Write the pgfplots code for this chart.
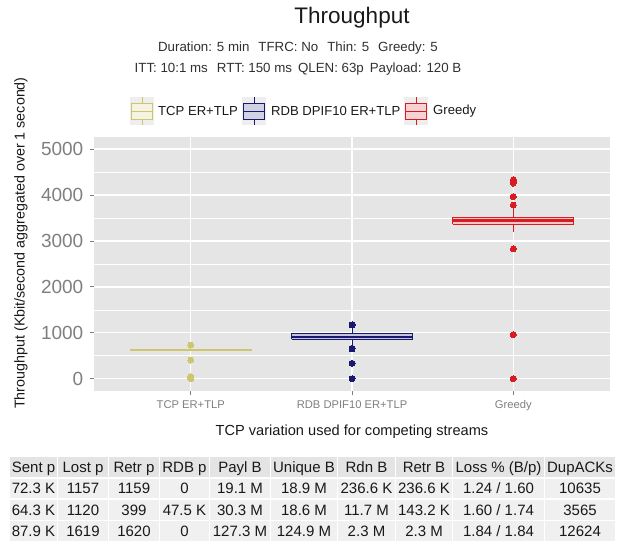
\documentclass[border=0pt]{standalone}
\usepackage{pgfplots}
\pgfplotsset{compat=1.18}
\usepackage{fontspec}
\setmainfont{Liberation Sans}
\definecolor{panel}{RGB}{229,229,229}
\definecolor{tcpc}{RGB}{205,198,110}
\definecolor{rdbc}{RGB}{25,25,112}
\definecolor{grc}{RGB}{215,28,34}
\definecolor{tickc}{RGB}{127,127,127}
\definecolor{hdrc}{RGB}{228,228,228}
\definecolor{cellc}{RGB}{240,240,240}
\definecolor{keyc}{RGB}{238,238,238}
\definecolor{txt}{RGB}{25,25,25}
\newcommand\fs[1]{\fontsize{#1}{#1}\selectfont}
\newcommand\legkey[3]{%
  \fill[keyc] (#1,420) rectangle (#2,448);
  \draw[#3, line width=0.8pt] ({(#1+#2)/2},448) -- ({(#1+#2)/2},442);
  \draw[#3, line width=0.8pt] ({(#1+#2)/2},426) -- ({(#1+#2)/2},420);
  \draw[#3, line width=0.8pt, fill=#3!20!white] (#1+1.5,426) rectangle (#2-1.5,442);
  \draw[#3, line width=0.8pt] (#1+1.5,434) -- (#2-1.5,434);
}
\begin{document}
\begin{tikzpicture}
\useasboundingbox (0pt,0pt) rectangle (617pt,545pt);
\begin{axis}[
  at={(94pt,154pt)}, anchor=south west, scale only axis,
  width=516pt, height=254pt,
  xmin=-0.6, xmax=2.6, ymin=-268, ymax=5266,
  axis background/.style={fill=panel},
  axis line style={draw=none},
  tick pos=left, tick align=outside,
  major tick length=4.5pt, minor tick length=0pt,
  tick style={tickc, line width=0.9pt},
  xtick={0,1,2}, xticklabels={TCP ER+TLP,RDB DPIF10 ER+TLP,Greedy},
  ytick={0,1000,2000,3000,4000,5000},
  minor ytick={500,1500,2500,3500,4500},
  grid=both,
  major grid style={white, line width=1.4pt},
  minor grid style={white, line width=0.55pt},
  /pgf/number format/assume math mode=true,
  /pgf/number format/set thousands separator={},
  yticklabel style={font=\fs{19}, text=tickc, inner sep=1pt, xshift=-5pt},
  xticklabel style={font=\fs{11.2}, text=tickc, inner sep=1pt, yshift=-4pt},
  outl/.style={only marks, mark=*, mark size=3pt, mark options={fill=#1, draw=#1, line width=0pt}},
  wh/.style={draw=#1, line width=1pt},
  bx/.style={draw=#1, fill=#1!25!white, line width=1pt},
  md/.style={draw=#1, line width=2.2pt},
]
% TCP ER+TLP (flat box at 625)
\addplot[bx=tcpc] coordinates {(-0.375,618) (0.375,618) (0.375,632) (-0.375,632) (-0.375,618)};
\addplot[md=tcpc] coordinates {(-0.375,625) (0.375,625)};
\addplot[outl=tcpc] coordinates {(0,734) (0,407) (0,44) (0,15) (0,0)};
% RDB DPIF10 ER+TLP
\addplot[wh=rdbc] coordinates {(1,974) (1,1130)};
\addplot[wh=rdbc] coordinates {(1,858) (1,700)};
\addplot[bx=rdbc] coordinates {(0.625,858) (1.375,858) (1.375,974) (0.625,974) (0.625,858)};
\addplot[md=rdbc] coordinates {(0.625,915) (1.375,915)};
\addplot[outl=rdbc] coordinates {(1,1170) (1,662) (1,650) (1,335) (1,0)};
% Greedy
\addplot[wh=grc] coordinates {(2,3516) (2,3700)};
\addplot[wh=grc] coordinates {(2,3370) (2,3203)};
\addplot[bx=grc] coordinates {(1.625,3370) (2.375,3370) (2.375,3516) (1.625,3516) (1.625,3370)};
\addplot[md=grc] coordinates {(1.625,3445) (2.375,3445)};
\addplot[outl=grc] coordinates {(2,4330) (2,4295) (2,4260) (2,3965) (2,3784) (2,2826) (2,959) (2,0)};
\end{axis}
\begin{scope}[x=1pt,y=1pt]
% titles
\node[font=\fs{22.5}, text=txt] at (352,527) {Throughput};
\node[font=\fs{13.3}, text=txt!90] at (298,497) {Duration: 5 min\hspace{9pt}TFRC: No\hspace{9pt}Thin: 5\hspace{9pt}Greedy: 5};
\node[font=\fs{13.3}, text=txt!90] at (298,476) {ITT: 10:1 ms\hspace{9pt}RTT: 150 ms\hspace{6pt}QLEN: 63p\hspace{6pt}Payload: 120 B};
% legend
\legkey{130}{154}{tcpc}
\legkey{242}{266}{rdbc}
\legkey{404}{428}{grc}
\node[font=\fs{13.1}, text=txt, anchor=west, inner sep=0pt] at (158,434) {TCP ER+TLP};
\node[font=\fs{13.1}, text=txt, anchor=west, inner sep=0pt] at (271,434) {RDB DPIF10 ER+TLP};
\node[font=\fs{13.1}, text=txt, anchor=west, inner sep=0pt] at (433,434) {Greedy};
% axis labels
\node[font=\fs{14.6}, text=txt] at (352,113) {TCP variation used for competing streams};
\node[font=\fs{14.3}, text=txt, rotate=90] at (21,302) {Throughput (Kbit/second aggregated over 1 second)};
% table
\def\colb{{9.5,57.5,108.5,159.5,209.5,270.5,337.5,395.5,452.5,544.5,615.5}}
\def\rowb{{88.5,67.2,45.9,24.6,3.3}}
\foreach \r/\rowtxt in {0/{Sent p,Lost p,Retr p,RDB p,Payl B,Unique B,Rdn B,Retr B,Loss \% (B/p),DupACKs},
  1/{72.3 K,1157,1159,0,19.1 M,18.9 M,236.6 K,236.6 K,1.24 / 1.60,10635},
  2/{64.3 K,1120,399,47.5 K,30.3 M,18.6 M,11.7 M,143.2 K,1.60 / 1.74,3565},
  3/{87.9 K,1619,1620,0,127.3 M,124.9 M,2.3 M,2.3 M,1.84 / 1.84,12624}} {
  \foreach \t [count=\c from 0] in \rowtxt {
    \pgfmathsetmacro\xa{\colb[\c]+0.8}
    \pgfmathsetmacro\xb{\colb[\c+1]-0.8}
    \pgfmathsetmacro\ya{\rowb[\r]-0.8}
    \pgfmathsetmacro\yb{\rowb[\r+1]+0.8}
    \pgfmathsetmacro\xm{(\xa+\xb)/2}
    \pgfmathsetmacro\ym{(\ya+\yb)/2-5.4}
    \ifnum\r=0 \fill[hdrc] (\xa,\ya) rectangle (\xb,\yb);
    \else \fill[cellc] (\xa,\ya) rectangle (\xb,\yb); \fi
    \node[font=\fs{15}, text=txt, anchor=base, inner sep=0pt] at (\xm,\ym) {\t};
  }
}
\end{scope}
\end{tikzpicture}
\end{document}
